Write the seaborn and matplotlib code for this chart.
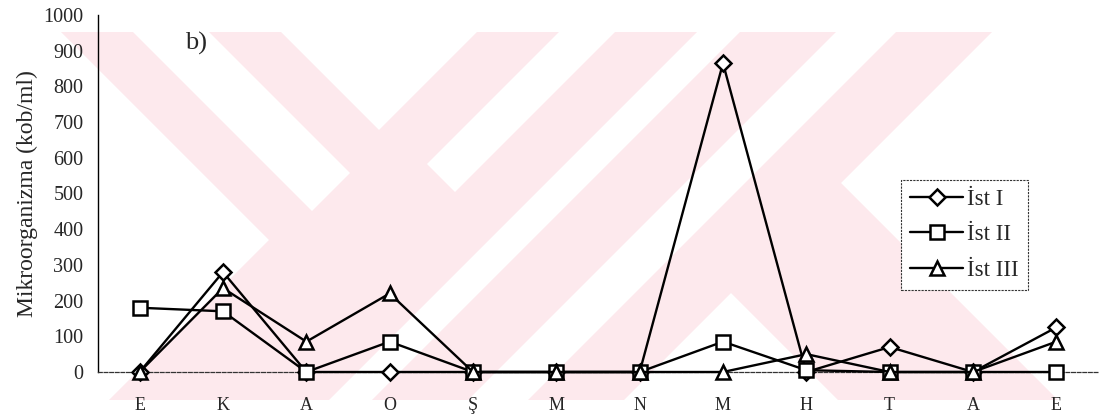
import numpy as np
import matplotlib
matplotlib.use("Agg")
import matplotlib.pyplot as plt
from matplotlib.patches import Polygon, Rectangle
from matplotlib.lines import Line2D
import seaborn as sns

# Sampling months (Ekim ... Eylül) and counts per station
months = ["E", "K", "A", "O", "Ş", "M", "N", "M", "H", "T", "A", "E"]
ist_1 = [0, 280, 0, 0, 0, 0, 0, 865, 0, 70, 0, 125]
ist_2 = [180, 170, 0, 85, 0, 0, 0, 85, 5, 0, 0, 0]
ist_3 = [0, 235, 85, 220, 0, 0, 0, 0, 50, 0, 0, 85]
series_names = ["İst I", "İst II", "İst III"]
y_ticks = list(range(0, 1001, 100))

sns.set_theme(style="white")
plt.rcParams["font.family"] = ["Liberation Serif", "DejaVu Serif"]

W, H = 1104, 420
fig = plt.figure(figsize=(W / 100, H / 100), dpi=100)
fig.patch.set_facecolor("white")

# --- faint pink background emblem, laid out in pixel units -------------
PINK = "#fde9ed"
TOP, BOTTOM = 32, 400


def px(pts):
    return [(x / W, 1 - y / H) for x, y in pts]


clip = Rectangle((0, 1 - BOTTOM / H), 1, (BOTTOM - TOP) / H, transform=fig.transFigure)


def strip(x_at_top, slope, half, ya, yb, color, z):
    """45-degree strip, centre through x_at_top at y=TOP, ends cut square."""
    pts = []
    for y, sgn in ((ya, 1), (yb, -1)):
        xc = x_at_top + slope * (y - TOP)
        a = (xc - half / 2, y + slope * half / 2)
        b = (xc + half / 2, y - slope * half / 2)
        pts += [a, b] if sgn > 0 else [b, a]
    p = Polygon(px(pts), closed=True, transform=fig.transFigure,
                facecolor=color, edgecolor="none", zorder=z)
    p.set_clip_path(clip)
    fig.patches.append(p)


# pink arms
strip(171, 1, 110, -150, 240, PINK, -6)    # upper-left arm
strip(587, -1, 110, -150, 620, PINK, -6)   # long left "/" arm
strip(866, -1, 126, -150, 620, PINK, -6)   # long right "/" arm
strip(580, 1, 110, 175, 620, PINK, -6)     # lower-right arm
# white inner stripes
strip(171, 1, 38, -150, 192, "white", -5)
strip(587, -1, 28, -150, 178, "white", -5)
strip(866, -1, 30, -150, 620, "white", -5)

# --- chart -------------------------------------------------------------
ax = fig.add_axes([98 / W, 1 - 372 / H, 1000 / W, (372 - 15) / H])
ax.set_facecolor("none")

x = np.arange(len(months))
styles = [("D", 7.8), ("s", 10), ("^", 10)]
for vals, (mk, ms) in zip([ist_1, ist_2, ist_3], styles):
    sns.lineplot(x=x, y=vals, ax=ax, color="black", linewidth=1.7, marker=mk,
                 markersize=ms, markerfacecolor="white", markeredgecolor="black",
                 markeredgewidth=1.8, legend=False, zorder=3, clip_on=False)

ax.set_xlim(-0.5, len(months) - 0.5)
ax.set_ylim(0, 1000)
ax.set_yticks(y_ticks)
ax.set_yticklabels([str(t) for t in y_ticks], fontsize=14.5)
ax.set_xticks(np.arange(len(months) + 1) - 0.5)
ax.set_xticklabels([])
ax.set_xticks(x, minor=True)
ax.set_xticklabels(months, minor=True, fontsize=13)
ax.tick_params(axis="x", which="major", direction="out", length=5, width=0.8, color="black")
ax.tick_params(axis="x", which="minor", length=0, pad=18)
ax.tick_params(axis="y", direction="out", length=6.5, width=0.8, color="black", pad=4)

for side in ("top", "right"):
    ax.spines[side].set_visible(False)
ax.spines["left"].set_color("black")
ax.spines["left"].set_linewidth(1.0)
ax.spines["bottom"].set_color("#333333")
ax.spines["bottom"].set_linewidth(0.9)
ax.spines["bottom"].set_linestyle((0, (3, 1.5)))

ax.set_ylabel("Mikroorganizma (kob/ml)", fontsize=17, labelpad=4)
ax.text(0.087, 0.92, "b)", transform=ax.transAxes, fontsize=19, va="center")

handles = [Line2D([], [], color="black", linewidth=1.7, marker=mk, markersize=ms,
                  markerfacecolor="white", markeredgecolor="black", markeredgewidth=1.8)
           for mk, ms in styles]
leg = ax.legend(handles, series_names, loc="upper left",
                bbox_to_anchor=(901 / W, 1 - 180 / H), bbox_transform=fig.transFigure,
                fontsize=16.5, frameon=True, fancybox=False, handlelength=2.3,
                handletextpad=0.2, labelspacing=0.62, borderpad=0.4, borderaxespad=0)
frame = leg.get_frame()
frame.set_edgecolor("#333333")
frame.set_linewidth(0.8)
frame.set_linestyle((0, (2, 1)))
frame.set_facecolor("white")
frame.set_alpha(None)

fig.savefig("out.png", dpi=100)
